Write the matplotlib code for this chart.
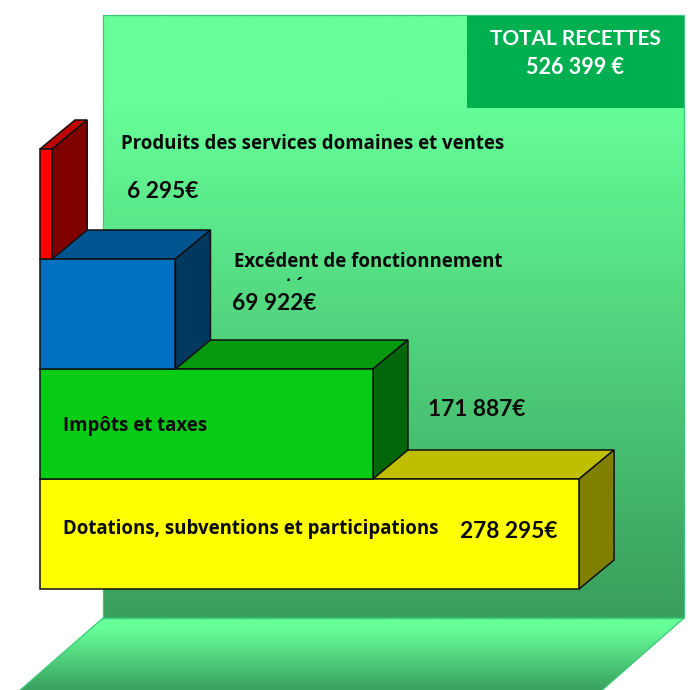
import matplotlib
matplotlib.use("Agg")
import matplotlib.pyplot as plt
import numpy as np
from matplotlib.colors import LinearSegmentedColormap
from matplotlib.patches import Polygon, Rectangle

categories = [
    "Dotations, subventions et participations",
    "Impôts et taxes",
    "Excédent de fonctionnement",
    "Produits des services domaines et ventes",
]
values = [278295, 171887, 69922, 6295]
value_labels = ["278 295€", "171 887€", "69 922€", "6 295€"]
front_colors = ["#FFFF00", "#06CC16", "#0070C0", "#FF0000"]
total_label = "TOTAL RECETTES\n526 399 €"

W, H = 688, 690
PX_PER_EURO = 0.001937
BAR_PX = 110
LEFT_PX = 40
BASE_PX = 589
DEPTH_X, DEPTH_Y = 35, 29
FONT = "Lato"
LABEL_FONT = "Open Sans"


def shade(color, factor):
    rgb = np.array(matplotlib.colors.to_rgb(color))
    return tuple(rgb * factor)


def gradient(ax, verts, top, bottom):
    """Degrade vertical coupe par un polygone (coordonnees pixels)."""
    xs, ys = zip(*verts)
    cmap = LinearSegmentedColormap.from_list(
        "wall", [(0, "#66FF99"), (0.14, "#66FF99"), (1, "#389E5C")]
    )
    im = ax.imshow(
        np.linspace(0, 1, 256).reshape(-1, 1),
        cmap=cmap,
        aspect="auto",
        extent=(min(xs), max(xs), bottom, top),
        zorder=1,
    )
    poly = Polygon(verts, closed=True, fc="none", ec="#3CC878", lw=0.9, zorder=2)
    ax.add_patch(poly)
    im.set_clip_path(poly)


fig = plt.figure(figsize=(W / 100, H / 100), dpi=100)

# fond : mur, sol et cartouche, en pixels
back = fig.add_axes([0, 0, 1, 1])
gradient(back, [(103, 15), (684, 15), (684, 618), (103, 618)], 15, 618)
gradient(back, [(103, 618), (684, 618), (600, 692), (18, 692)], 618, 692)
back.add_patch(Rectangle((467, 16), 217, 92, fc="#00B050", ec="none", zorder=3))
back.set_xlim(0, W)
back.set_ylim(H, 0)
back.axis("off")

# barres : x en euros, y en rang de categorie
ax = fig.add_axes([0, 0, 1, 1], facecolor="none")
ax.set_xlim(-LEFT_PX / PX_PER_EURO, (W - LEFT_PX) / PX_PER_EURO)
ax.set_ylim(-(H - BASE_PX) / BAR_PX, BASE_PX / BAR_PX)
ax.axis("off")

dx = DEPTH_X / PX_PER_EURO
dy = DEPTH_Y / BAR_PX
for i, (val, col) in enumerate(zip(values, front_colors)):
    top_face = [(0, i + 1), (val, i + 1), (val + dx, i + 1 + dy), (dx, i + 1 + dy)]
    side_face = [(val, i), (val + dx, i + dy), (val + dx, i + 1 + dy), (val, i + 1)]
    ax.add_patch(Polygon(top_face, fc=shade(col, 0.75), ec="#111111", lw=1.1, joinstyle="miter"))
    ax.add_patch(Polygon(side_face, fc=shade(col, 0.5), ec="#111111", lw=1.1, joinstyle="miter"))
    ax.barh(i, val, height=1, align="edge", color=col, edgecolor="#111111", linewidth=1.1)

# textes, en pixels
txt = fig.add_axes([0, 0, 1, 1], facecolor="none")
txt.set_xlim(0, W)
txt.set_ylim(H, 0)
txt.axis("off")

LABEL_SIZE = 13.45
VALUE_SIZE = 16.4
label_pos = [(63, 529), (63, 426), (234, 262), (121, 144)]
value_pos = [(460, 531), (428, 410), (232, 304), (127, 191)]
for name, (x, y) in zip(categories, label_pos):
    txt.text(x, y, name, fontsize=LABEL_SIZE, fontweight="bold", family=LABEL_FONT, va="center", ha="left", color="#0a0a0a")
for lab, (x, y) in zip(value_labels, value_pos):
    txt.text(x, y, lab, fontsize=VALUE_SIZE, fontweight="bold", family=FONT, va="center", ha="left", color="#0a0a0a")

# deuxieme ligne tronquee dans la zone de texte d'origine
clip = Rectangle((220, 276), 120, 5, transform=txt.transData)
hidden = txt.text(234, 292, "reporté", fontsize=LABEL_SIZE, fontweight="bold", family=LABEL_FONT, va="baseline", ha="left", color="#0a0a0a", clip_on=True)
hidden.set_clip_path(clip)

title, amount = total_label.split("\n")
txt.text(575.5, 39, title, fontsize=15, fontweight="bold", family=FONT, color="white", ha="center", va="center")
txt.text(575.5, 68, amount, fontsize=15.5, fontweight="bold", family=FONT, color="white", ha="center", va="center")

fig.savefig("out.png", dpi=100, facecolor="white")
